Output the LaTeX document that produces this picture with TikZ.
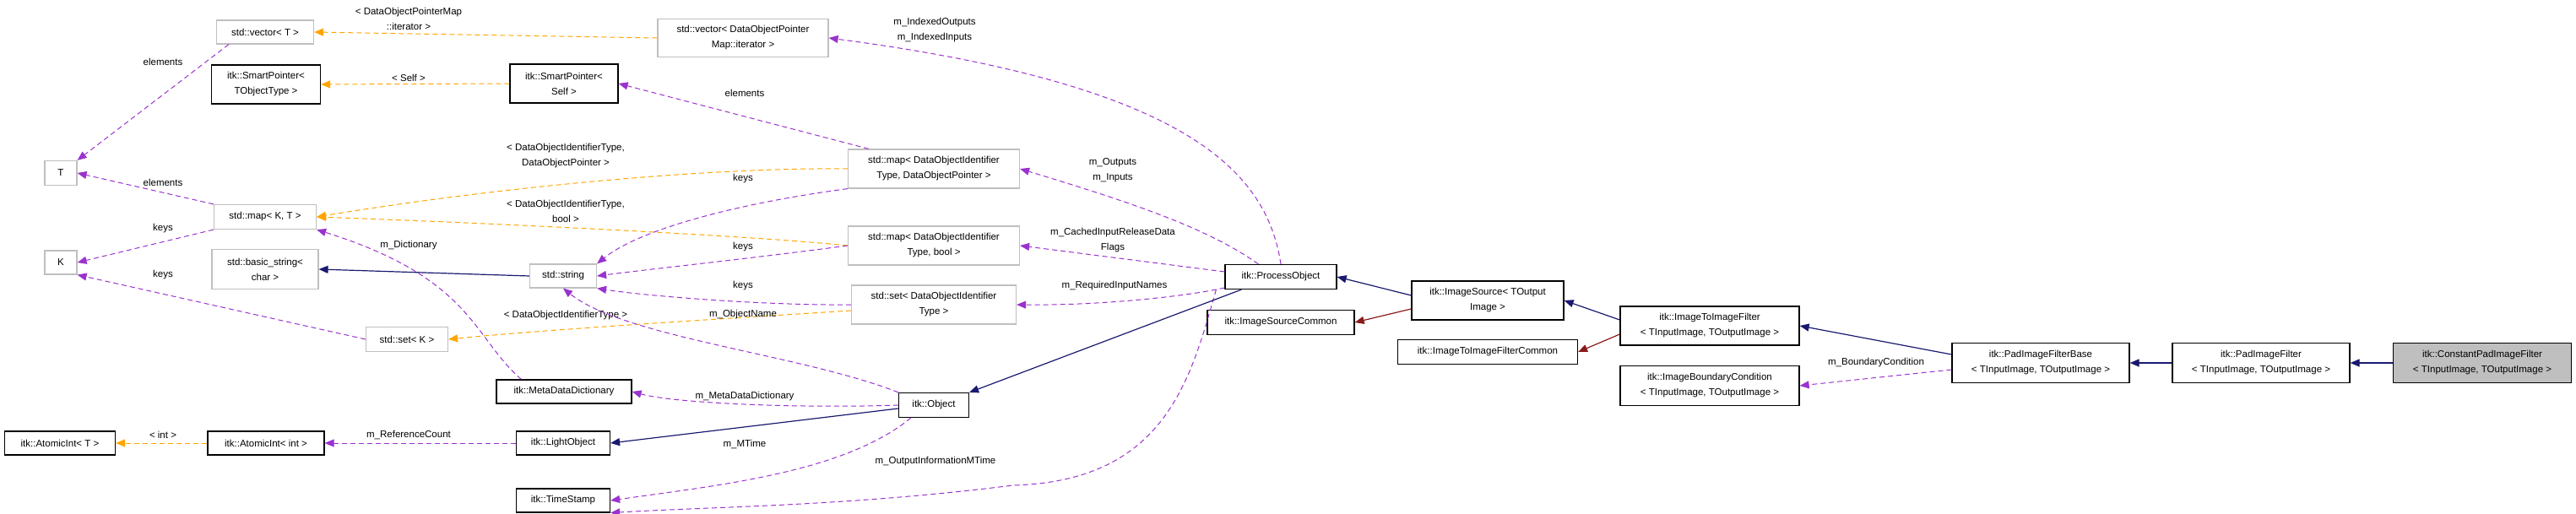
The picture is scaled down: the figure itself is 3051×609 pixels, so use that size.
\documentclass[tikz,border=0pt]{standalone}
\usepackage{fontspec}
\setmainfont{Liberation Sans}
\usetikzlibrary{arrows.meta}
\definecolor{purp}{HTML}{9A32CD}
\definecolor{orng}{HTML}{FFA500}
\definecolor{navy}{HTML}{191970}
\definecolor{dred}{HTML}{8B1A1A}
\definecolor{gborder}{HTML}{BFBFBF}
\tikzset{
  box/.style={draw, line width=1.2pt, inner sep=0pt, align=center, font=\fontsize{11.5}{18}\selectfont},
  gbox/.style={box, draw=gborder},
  kbox/.style={box, draw=black},
  lbl/.style={inner sep=0pt, align=center, font=\fontsize{11.5}{18}\selectfont},
  tip/.style={-{Triangle[width=9pt,length=11pt]}},
  mem/.style={tip, purp, dashed, dash pattern=on 6pt off 4pt, line width=1pt},
  tmpl/.style={tip, orng, dashed, dash pattern=on 6pt off 4pt, line width=1pt},
  inh/.style={tip, navy, line width=1.2pt},
  priv/.style={tip, dred, line width=1.2pt},
}
\newcommand{\bx}[7]{\node[#1, minimum width=#4, minimum height=#5] (#2) at (#6,#7) {#3};}
\begin{document}
\begin{tikzpicture}[x=1pt,y=-1pt]
\useasboundingbox (0,0) rectangle (3051,609);
% nodes
\bx{gbox}{vecT}{std::vector< T >}{115}{28}{314}{38}
\bx{kbox}{spTO}{itk::SmartPointer<\\TObjectType >}{129}{46}{315}{100}
\bx{kbox}{spSelf}{itk::SmartPointer<\\Self >}{128}{46}{668}{99}
\bx{gbox}{vecDOP}{std::vector< DataObjectPointer\\Map::iterator >}{202}{45}{880}{45}
\bx{gbox}{T}{T}{38}{29}{72}{205}
\bx{gbox}{mapKT}{std::map< K, T >}{121}{29}{314}{257}
\bx{gbox}{K}{K}{38}{28}{72}{311}
\bx{gbox}{bstr}{std::basic\_string<\\char >}{126}{47}{314}{319}
\bx{gbox}{str}{std::string}{79}{28}{667}{327}
\bx{gbox}{setK}{std::set< K >}{97}{29}{482}{402}
\bx{kbox}{mdd}{itk::MetaDataDictionary}{160}{28}{668}{464}
\bx{kbox}{aiT}{itk::AtomicInt< T >}{131}{28}{71}{525}
\bx{kbox}{aiI}{itk::AtomicInt< int >}{138}{28}{315}{525}
\bx{kbox}{lo}{itk::LightObject}{111}{28}{667}{525}
\bx{kbox}{ts}{itk::TimeStamp}{111}{28}{667}{593}
\bx{gbox}{mapDOP}{std::map< DataObjectIdentifier\\Type, DataObjectPointer >}{203}{46}{1106}{200}
\bx{gbox}{mapB}{std::map< DataObjectIdentifier\\Type, bool >}{203}{46}{1106}{291}
\bx{gbox}{setDOI}{std::set< DataObjectIdentifier\\Type >}{195}{46}{1106}{361}
\bx{kbox}{po}{itk::ProcessObject}{132}{29}{1517}{328}
\bx{kbox}{obj}{itk::Object}{83}{29}{1106}{480}
\bx{kbox}{is}{itk::ImageSource< TOutput\\Image >}{180}{46}{1762}{356}
\bx{kbox}{isc}{itk::ImageSourceCommon}{174}{29}{1517}{382}
\bx{kbox}{itif}{itk::ImageToImageFilter\\< TInputImage, TOutputImage >}{212}{46}{2025}{386}
\bx{kbox}{itifc}{itk::ImageToImageFilterCommon}{213}{29}{1762}{417}
\bx{kbox}{ibc}{itk::ImageBoundaryCondition\\< TInputImage, TOutputImage >}{212}{47}{2025}{457}
\bx{kbox}{pifb}{itk::PadImageFilterBase\\< TInputImage, TOutputImage >}{210}{47}{2417}{430}
\bx{kbox}{pif}{itk::PadImageFilter\\< TInputImage, TOutputImage >}{210}{47}{2678}{430}
\node[kbox, fill=gborder, minimum width=211, minimum height=47] (cpif) at (2940,430) {itk::ConstantPadImageFilter\\< TInputImage, TOutputImage >};
% edges
\draw[tmpl] (vecDOP.west) -- (vecT.east);
\node[lbl] (l1) at (484,22) {< DataObjectPointerMap\\::iterator >};
\draw[tmpl] (spSelf.west) -- (spTO.east);
\node[lbl] (l2) at (484,92) {< Self >};
\draw[mem] (mapDOP.north west) ++(25,0) coordinate (c1) (c1) -- (spSelf.east);
\node[lbl] (l3) at (882,110) {elements};
\draw[mem] (vecT.south west) ++(15,0) coordinate (c2) (c2) -- (T.north east);
\node[lbl] (l4) at (193,73) {elements};
\draw[mem] (mapKT.north west) -- (T.east);
\node[lbl] (l5) at (193,216) {elements};
\draw[mem] (mapKT.south west) -- (K.east);
\node[lbl] (l6) at (193,271) {keys};
\draw[mem] (setK.west) -- (K.south east);
\node[lbl] (l7) at (193,326) {keys};
\draw[tmpl] (mapDOP.west) .. controls (850,198) and (600,220) .. (mapKT.east);
\node[lbl] (l8) at (670,185) {< DataObjectIdentifierType,\\DataObjectPointer >};
\draw[tmpl] (mapB.west) .. controls (900,280) and (600,265) .. (mapKT.east);
\node[lbl] (l9) at (670,250) {< DataObjectIdentifierType,\\bool >};
\draw[inh] (str.west) -- (bstr.east);
\draw[mem] (mapDOP.south west) .. controls (880,240) and (760,270) .. (str.north east);
\node[lbl] (l10) at (880,212) {keys};
\draw[mem] (mapB.west) .. controls (900,305) and (760,320) .. (str.east);
\node[lbl] (l11) at (880,293) {keys};
\draw[mem] (setDOI.west) .. controls (900,362) and (760,350) .. (str.south east);
\node[lbl] (l12) at (880,339) {keys};
\draw[tmpl] (setDOI.west) ++(0,7) coordinate (c3) (c3) .. controls (900,375) and (650,390) .. (setK.east);
\node[lbl] (l13) at (670,374) {< DataObjectIdentifierType >};
\draw[mem] (obj.north west) .. controls (950,420) and (740,400) .. (str.south);
\node[lbl] (l14) at (880,373) {m\_ObjectName};
\draw[mem] (mdd.north west) ++(30,0) coordinate (c4) (c4) .. controls (560,400) and (560,330) .. (mapKT.south east);
\node[lbl] (l15) at (484,291) {m\_Dictionary};
\draw[mem] (obj.west) .. controls (950,484) and (800,478) .. (mdd.east);
\node[lbl] (l16) at (882,470) {m\_MetaDataDictionary};
\draw[inh] (obj.west) ++(0,4) coordinate (c5) (c5) -- (lo.east);
\draw[mem] (lo.west) -- (aiI.east);
\node[lbl] (l17) at (484,515) {m\_ReferenceCount};
\draw[tmpl] (aiI.west) -- (aiT.east);
\node[lbl] (l18) at (193,515) {< int >};
\draw[mem] (obj.south west) ++(15,0) coordinate (c6) (c6) .. controls (1000,560) and (850,575) .. (ts.east);
\node[lbl] (l19) at (882,526) {m\_MTime};
\draw[mem] (po.south west) ++(-10,0) coordinate (c7) (c7) .. controls (1410,450) and (1380,570) .. (1200,575) .. controls (1000,600) and (850,600) .. (ts.south east);
\node[lbl] (l20) at (1108,547) {m\_OutputInformationMTime};
\draw[mem] (po.north) .. controls (1500,200) and (1400,100) .. (vecDOP.east);
\node[lbl] (l21) at (1107,36) {m\_IndexedOutputs\\m\_IndexedInputs};
\draw[mem] (po.north west) ++(40,0) coordinate (c8) (c8) .. controls (1430,270) and (1340,240) .. (mapDOP.east);
\node[lbl] (l22) at (1318,202) {m\_Outputs\\m\_Inputs};
\draw[mem] (po.west) ++(0,-6) coordinate (c9) (c9) -- (mapB.east);
\node[lbl] (l23) at (1318,285) {m\_CachedInputReleaseData\\Flags};
\draw[mem] (po.west) ++(0,13) coordinate (c10) (c10) .. controls (1400,352) and (1300,362) .. (setDOI.east);
\node[lbl] (l24) at (1320,339) {m\_RequiredInputNames};
\draw[inh] (po.south west) ++(20,0) coordinate (c11) (c11) -- (obj.north east);
\draw[inh] (is.west) ++(0,-6) coordinate (c12) (c12) -- (po.east);
\draw[priv] (is.west) ++(0,10) coordinate (c13) (c13) -- (isc.east);
\draw[inh] (itif.west) ++(0,-7) coordinate (c14) (c14) -- (is.east);
\draw[priv] (itif.west) ++(0,10) coordinate (c15) (c15) -- (itifc.east);
\draw[inh] (pifb.west) ++(0,-10) coordinate (c16) (c16) -- (itif.east);
\draw[mem] (pifb.west) ++(0,8) coordinate (c17) (c17) -- (ibc.east);
\node[lbl] (l25) at (2222,430) {m\_BoundaryCondition};
\draw[inh] (pif.west) -- (pifb.east);
\draw[inh] (cpif.west) -- (pif.east);
\end{tikzpicture}
\end{document}
